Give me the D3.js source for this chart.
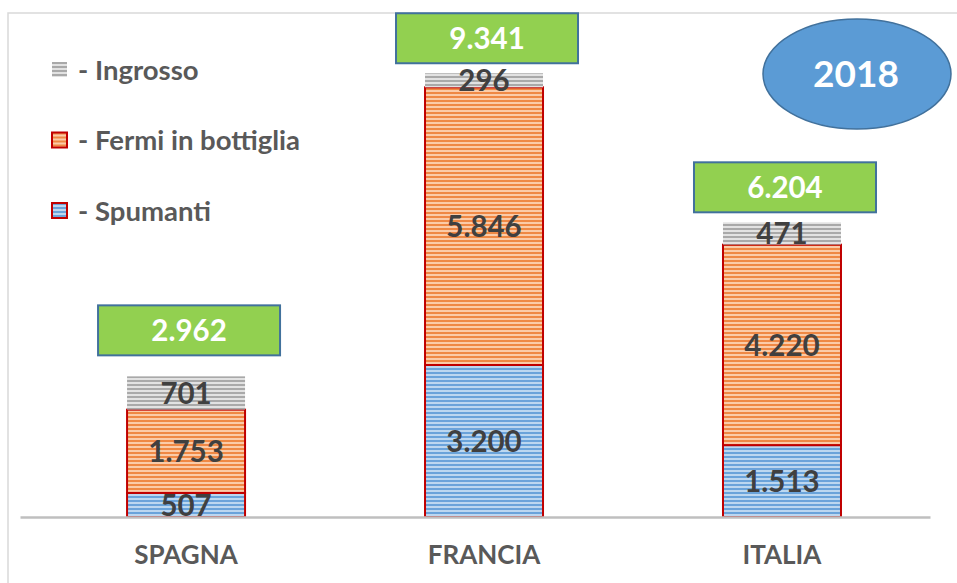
<!DOCTYPE html>
<html lang="it">
<meta charset="utf-8">
<title>Vino 2018</title>
<style>
  body { margin: 0; background: #fff; }
  svg { display: block; font-family: Lato, "Open Sans", sans-serif; }
</style>
<body>
<div id="chart"></div>
<script src="https://cdn.jsdelivr.net/npm/d3@7"></script>
<script>
// Dati
const categories = ["SPAGNA", "FRANCIA", "ITALIA"];
const spumanti = [507, 3200, 1513];
const fermi = [1753, 5846, 4220];
const ingrosso = [701, 296, 471];
const totali = [2962, 9341, 6204];
const legendLabels = ["- Ingrosso", "- Fermi in bottiglia", "- Spumanti"];
const year = "2018";

// distanza tra il riquadro verde e la cima della barra
const boxGap = [21, 10, 10];

const W = 957, H = 583;
const svg = d3.select("#chart").append("svg").attr("width", W).attr("height", H);

const it = d3.formatLocale({ decimal: ",", thousands: ".", grouping: [3], currency: ["", "€"] });
const fmt = it.format(",d");

// Pattern a righe orizzontali, come il riempimento di Excel
const defs = svg.append("defs");
function stripes(id, base, light) {
  const p = defs.append("pattern").attr("id", id).attr("patternUnits", "userSpaceOnUse")
    .attr("width", 8).attr("height", 4);
  p.append("rect").attr("width", 8).attr("height", 4).attr("fill", base);
  p.append("rect").attr("y", 2).attr("width", 8).attr("height", 2).attr("fill", light);
}
stripes("pGray", "#a9a9a9", "#e2e2e2");
stripes("pOrange", "#ef8844", "#fbcba8");
stripes("pBlue", "#6aa3da", "#bcd7f0");

// cornice del grafico
svg.append("path").attr("d", `M8,${H} V13 H${W}`).attr("fill", "none")
  .attr("stroke", "#d9d9d9").attr("stroke-width", 1.5);

const x = d3.scaleBand().domain(categories).range([20, 930])
  .paddingInner(0.604).paddingOuter(0.329).align(0.546);
const y = d3.scaleLinear().domain([0, 10000]).range([517, 42]);

const rows = categories.map((c, i) => ({ cat: c, spumanti: spumanti[i], fermi: fermi[i], ingrosso: ingrosso[i] }));
const keys = ["spumanti", "fermi", "ingrosso"];
const fills = { spumanti: "url(#pBlue)", fermi: "url(#pOrange)", ingrosso: "url(#pGray)" };
const stack = d3.stack().keys(keys)(rows);

const layers = svg.append("g").selectAll("g").data(stack).join("g");
layers.selectAll("rect").data(d => d.map(s => ({ key: d.key, s })))
  .join("rect")
  .attr("x", d => x(d.s.data.cat))
  .attr("width", x.bandwidth())
  .attr("y", d => y(d.s[1]))
  .attr("height", d => y(d.s[0]) - y(d.s[1]))
  .attr("fill", d => fills[d.key])
  .attr("stroke", d => d.key === "ingrosso" ? "none" : "#c00000")
  .attr("stroke-width", 2);

// etichette dei segmenti
layers.selectAll("text").data(d => d.map(s => ({ key: d.key, s })))
  .join("text")
  .attr("x", d => x(d.s.data.cat) + x.bandwidth() / 2)
  .attr("y", d => (y(d.s[0]) + y(d.s[1])) / 2)
  .attr("dy", "0.36em")
  .attr("text-anchor", "middle")
  .attr("font-size", 29.5).attr("font-weight", 700).attr("fill", "#404040")
  .text(d => fmt(d.s.data[d.key]));

// asse
const axis = svg.append("g").attr("transform", "translate(0,517)")
  .call(d3.axisBottom(x).tickSize(0).tickPadding(28.5));
axis.select(".domain").attr("stroke", "#bfbfbf").attr("stroke-width", 2.5);
axis.selectAll("text").attr("font-size", 26).attr("font-weight", 700).attr("fill", "#595959")
  .attr("font-family", "Lato, sans-serif");

// riquadri dei totali
const topLayer = stack[stack.length - 1];
const boxW = 182, boxH = 50;
const boxes = svg.append("g").selectAll("g").data(categories).join("g")
  .attr("transform", (c, i) => {
    const cx = x(c) + x.bandwidth() / 2 + 3;
    const yb = y(topLayer[i][1]) - boxGap[i];
    return `translate(${cx},${yb - boxH})`;
  });
boxes.append("rect").attr("x", -boxW / 2).attr("width", boxW).attr("height", boxH)
  .attr("fill", "#92d050").attr("stroke", "#41719c").attr("stroke-width", 2);
boxes.append("text").attr("y", boxH / 2).attr("dy", "0.36em").attr("text-anchor", "middle")
  .attr("font-size", 29.5).attr("font-weight", 700).attr("fill", "#fff")
  .text((c, i) => fmt(totali[i]));

// ellisse con l'anno
svg.append("ellipse").attr("cx", 857).attr("cy", 74).attr("rx", 94).attr("ry", 55)
  .attr("fill", "#5b9bd5").attr("stroke", "#41719c").attr("stroke-width", 1.5);
svg.append("text").attr("x", 856).attr("y", 74).attr("dy", "0.36em").attr("text-anchor", "middle")
  .attr("font-size", 37).attr("font-weight", 700).attr("fill", "#fff").text(year);

// legenda
const legFills = ["url(#pGray)", "url(#pOrange)", "url(#pBlue)"];
const leg = svg.append("g").selectAll("g").data(legendLabels).join("g")
  .attr("transform", (d, i) => `translate(52,${70 + i * 70.5})`);
leg.append("rect").attr("y", -8).attr("width", 15).attr("height", 15)
  .attr("fill", (d, i) => legFills[i])
  .attr("stroke", (d, i) => i === 0 ? "none" : "#c00000").attr("stroke-width", 2);
leg.append("text").attr("x", 26).attr("dy", "0.36em")
  .attr("font-size", 27.5).attr("font-weight", 700).attr("fill", "#595959")
  .text(d => d);
</script>
</body>
</html>
